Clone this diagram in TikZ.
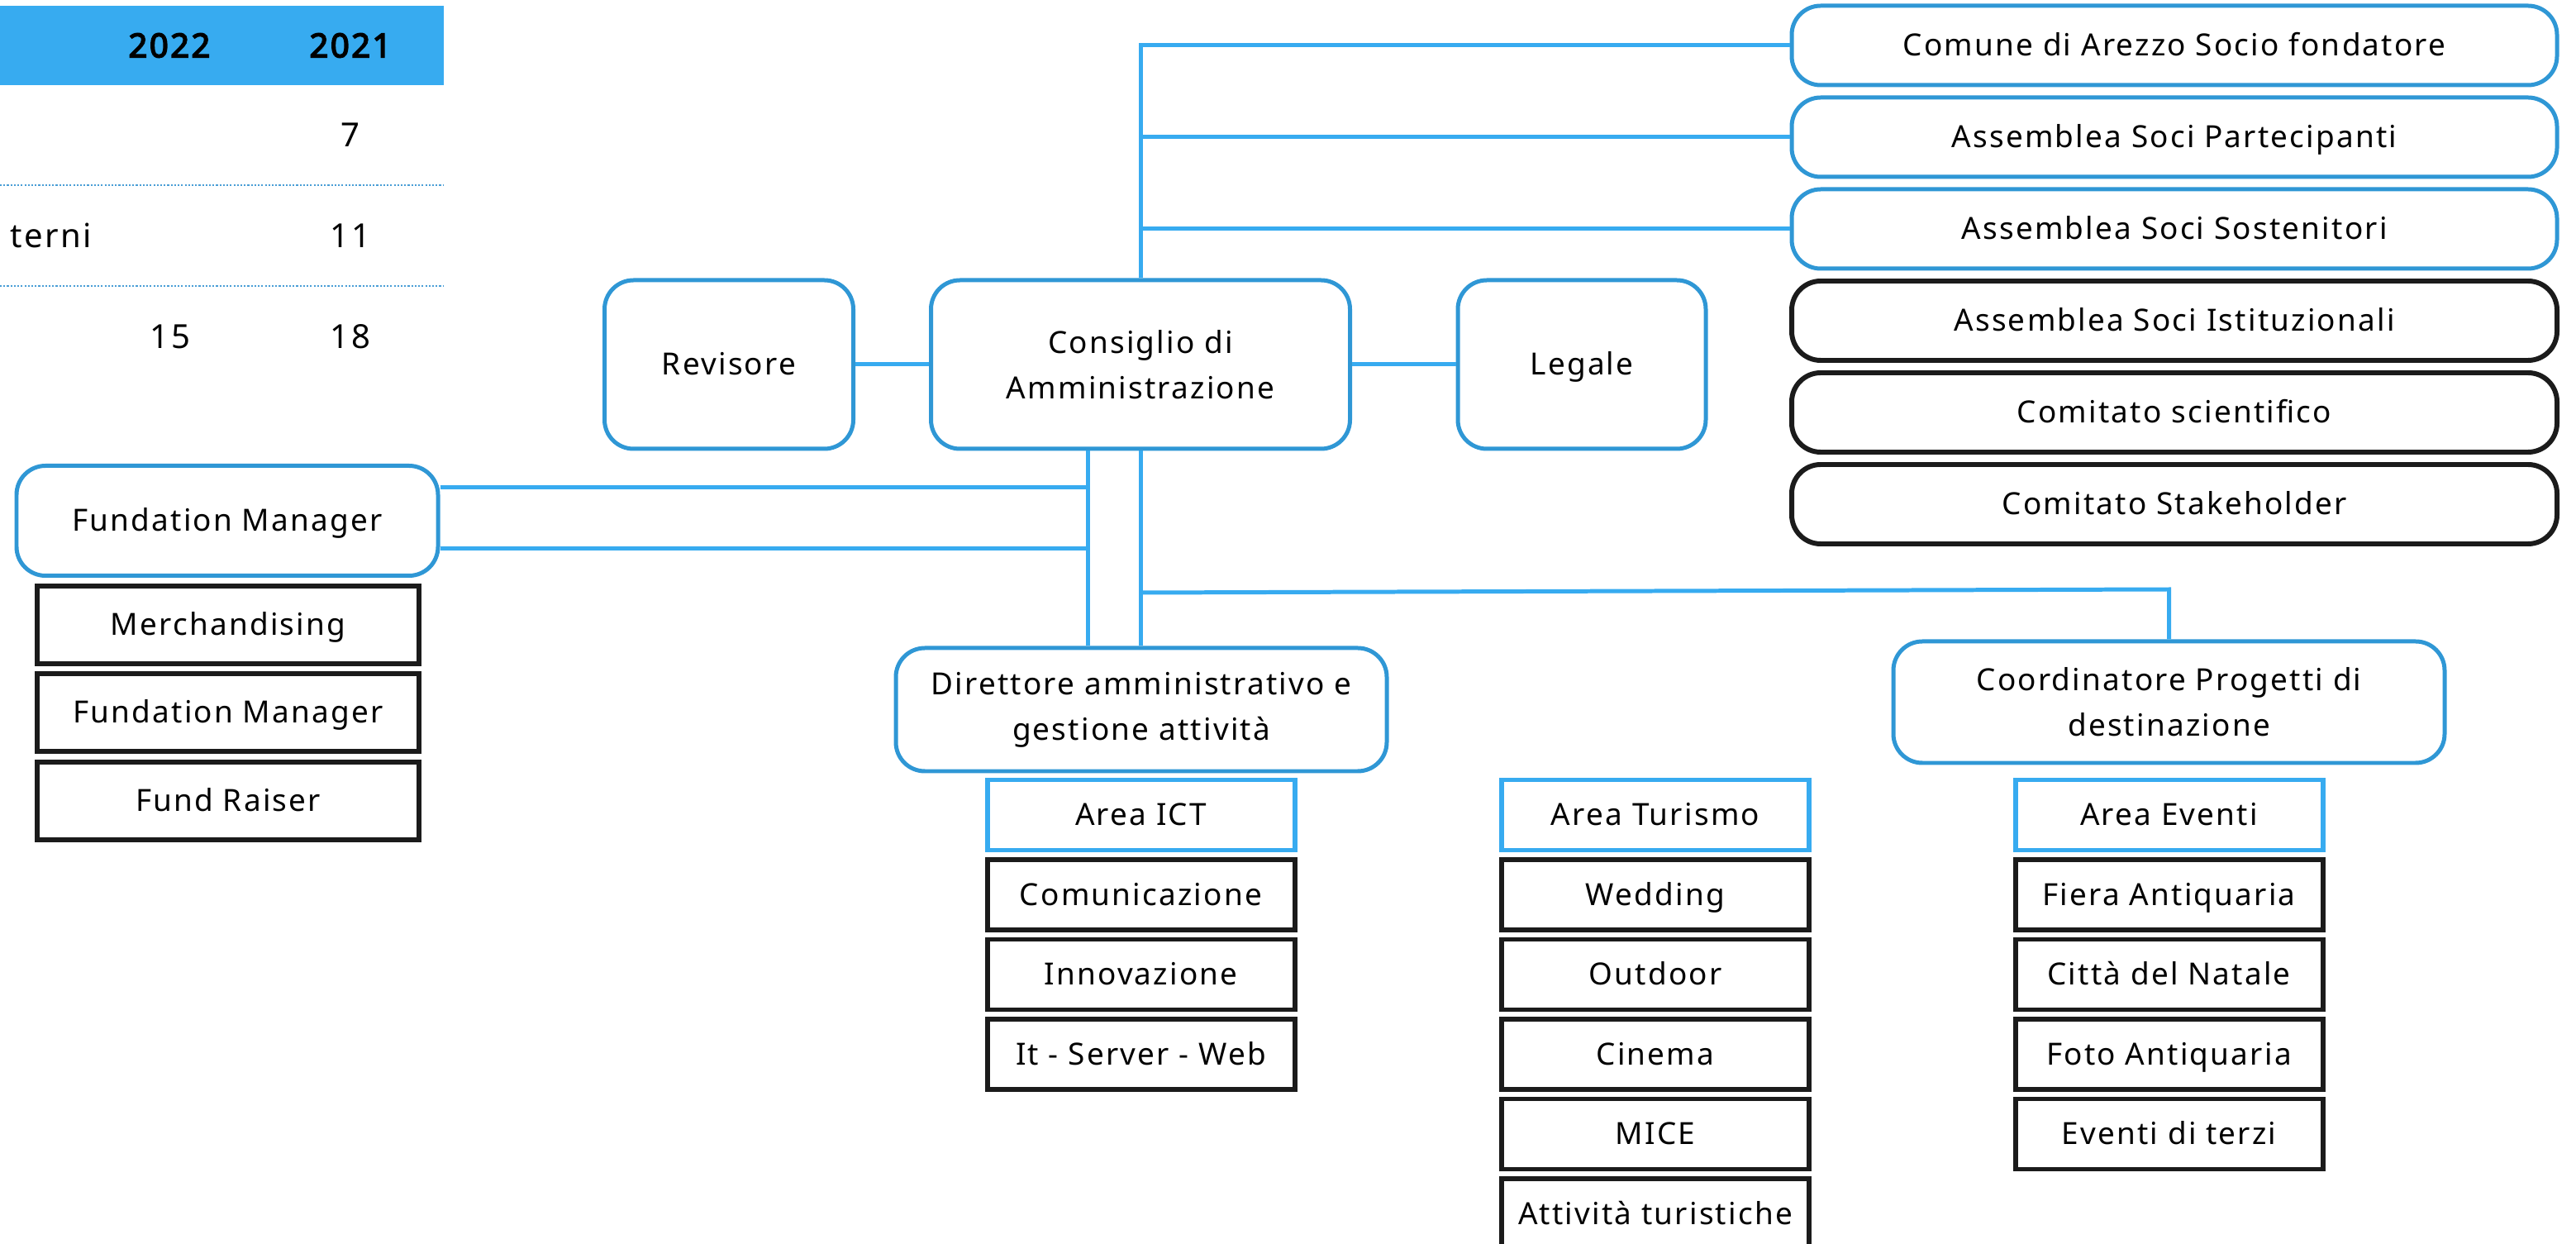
\documentclass[tikz,border=0pt]{standalone}
\usepackage{fontspec}
\setmainfont{Noto Sans}[LetterSpace=6]
\definecolor{lineblue}{HTML}{37ABF0}
\definecolor{boxblue}{HTML}{2F97D5}
\definecolor{boxblack}{HTML}{1B1B1B}
\definecolor{dotblue}{HTML}{4A9ED6}
\begin{document}
\begin{tikzpicture}[
        every node/.style={font=\fontsize{10.5}{15.6}\selectfont},
        link/.style={draw=lineblue, line width=1.42pt},
        oneline/.style={text height=0.72em, text depth=0pt},
        roundbox/.style={draw=boxblue, line width=1.42pt, rounded corners=0.35cm,
                         align=center, inner sep=0pt, fill=white},
        blackround/.style={roundbox, draw=boxblack, line width=1.7pt},
        areabox/.style={draw=lineblue, line width=1.7pt, inner sep=0pt, oneline,
                        minimum width=3.72cm, minimum height=0.85cm},
        unitbox/.style={areabox, draw=boxblack},
        cell/.style={font=\fontsize{11.4}{13}\selectfont},
        headcell/.style={font=\fontsize{11.4}{13}\selectfont\addfontfeature{FakeBold=4}}]
        \useasboundingbox (0,0) rectangle (31.17,-15.05);
        \clip (0,0) rectangle (31.17,-15.05);

        % Table
        \fill[lineblue]  (   0,-0.07) rectangle (5.37,-1.03);
        \node[headcell] (y22)  at (2.05,-0.55) {2022};
        \node[headcell] (y21)  at (4.24,-0.55) {2021};
        \node[cell]     (r1b)  at (4.24,-1.63) {7};
        \node[cell, anchor=west] (r2a) at (0.00,-2.85) {terni};
        \node[cell]     (r2b)  at (4.24,-2.85) {11};
        \node[cell]     (r3a)  at (2.06,-4.07) {15};
        \node[cell]     (r3b)  at (4.24,-4.07) {18};
        \draw[dotblue, line width=0.6pt, dash pattern=on 0.6pt off 0.6pt] (0,-2.24) -- (5.37,-2.24);
        \draw[dotblue, line width=0.6pt, dash pattern=on 0.6pt off 0.6pt] (0,-3.46) -- (5.37,-3.46);

        % Soci and comitati
        \node[roundbox,   oneline, minimum width=9.26cm, minimum height=0.96cm] (comune)        at (26.31,-0.55) {Comune di Arezzo Socio fondatore};
        \node[roundbox,   oneline, minimum width=9.26cm, minimum height=0.96cm] (partecipanti)  at (26.31,-1.66) {Assemblea Soci Partecipanti};
        \node[roundbox,   oneline, minimum width=9.26cm, minimum height=0.96cm] (sostenitori)   at (26.31,-2.77) {Assemblea Soci Sostenitori};
        \node[blackround, oneline, minimum width=9.26cm, minimum height=0.96cm] (istituzionali) at (26.31,-3.88) {Assemblea Soci Istituzionali};
        \node[blackround, oneline, minimum width=9.26cm, minimum height=0.96cm] (scientifico)   at (26.31,-4.99) {Comitato scientifico};
        \node[blackround, oneline, minimum width=9.26cm, minimum height=0.96cm] (stakeholder)   at (26.31,-6.10) {Comitato Stakeholder};

        % Consiglio row
        \node[roundbox, oneline, minimum width=3.01cm, minimum height=2.04cm] (revisore) at ( 8.82,-4.41) {Revisore};
        \node[roundbox,          minimum width=5.07cm, minimum height=2.04cm] (cda)      at (13.80,-4.41) {Consiglio di\\Amministrazione};
        \node[roundbox, oneline, minimum width=3.00cm, minimum height=2.04cm] (legale)   at (19.14,-4.41) {Legale};

        % Fundation Manager
        \node[roundbox, oneline, minimum width=5.10cm, minimum height=1.33cm] (fm)       at (2.75,-6.30) {Fundation Manager};
        \node[unitbox,  minimum width=4.62cm, minimum height=0.94cm] (merch)    at (2.76,-7.56) {Merchandising};
        \node[unitbox,  minimum width=4.62cm, minimum height=0.94cm] (fmanager) at (2.76,-8.62) {Fundation Manager};
        \node[unitbox,  minimum width=4.62cm, minimum height=0.94cm] (raiser)   at (2.76,-9.69) {Fund Raiser};

        % Direzione
        \node[roundbox, minimum width=5.94cm, minimum height=1.49cm] (dir)   at (13.81,-8.585) {Direttore amministrativo e\\gestione attività};
        \node[roundbox, minimum width=6.67cm, minimum height=1.47cm] (coord) at (26.245,-8.495) {Coordinatore Progetti di\\destinazione};

        % Aree
        \node[areabox] (ict)           at (13.805, -9.860) {Area ICT};
        \node[unitbox] (comunicazione) at (13.805,-10.825) {Comunicazione};
        \node[unitbox] (innovazione)   at (13.805,-11.790) {Innovazione};
        \node[unitbox] (web)           at (13.805,-12.755) {It - Server - Web};

        \node[areabox] (turismo)       at (20.03, -9.860) {Area Turismo};
        \node[unitbox] (wedding)       at (20.03,-10.825) {Wedding};
        \node[unitbox] (outdoor)       at (20.03,-11.790) {Outdoor};
        \node[unitbox] (cinema)        at (20.03,-12.755) {Cinema};
        \node[unitbox] (mice)          at (20.03,-13.720) {MICE};
        \node[unitbox] (attivita)      at (20.03,-14.685) {Attività turistiche};

        \node[areabox] (eventi)        at (26.245, -9.860) {Area Eventi};
        \node[unitbox] (fiera)         at (26.245,-10.825) {Fiera Antiquaria};
        \node[unitbox] (natale)        at (26.245,-11.790) {Città del Natale};
        \node[unitbox] (foto)          at (26.245,-12.755) {Foto Antiquaria};
        \node[unitbox] (terzi)         at (26.245,-13.720) {Eventi di terzi};

        % Connectors
        \draw[link] (revisore) -- (cda);
        \draw[link] (cda) -- (legale);
        \draw[link] (cda.north) |- (comune.west);
        \draw[link] (cda.north) |- (partecipanti.west);
        \draw[link] (cda.north) |- (sostenitori.west);
        \draw[link] (cda.south) -- (cda.south |- dir.north);
        \coordinate (trunk)  at ([xshift=-0.64cm]cda.south);
        \draw[link] (trunk) -- (trunk |- dir.north);
        \coordinate (fmtop)  at ([yshift=0.40cm]fm.east);
        \coordinate (fmbot)  at ([yshift=-0.34cm]fm.east);
        \draw[link] (fmtop) -- (fmtop -| trunk);
        \draw[link] (fmbot) -- (fmbot -| trunk);
        \coordinate (branch) at (13.80,-7.17);
        \coordinate (corner) at (coord.north |- branch);
        \draw[link] (branch) -- ([yshift=0.04cm]corner) -- (coord.north);
\end{tikzpicture}
\end{document}
